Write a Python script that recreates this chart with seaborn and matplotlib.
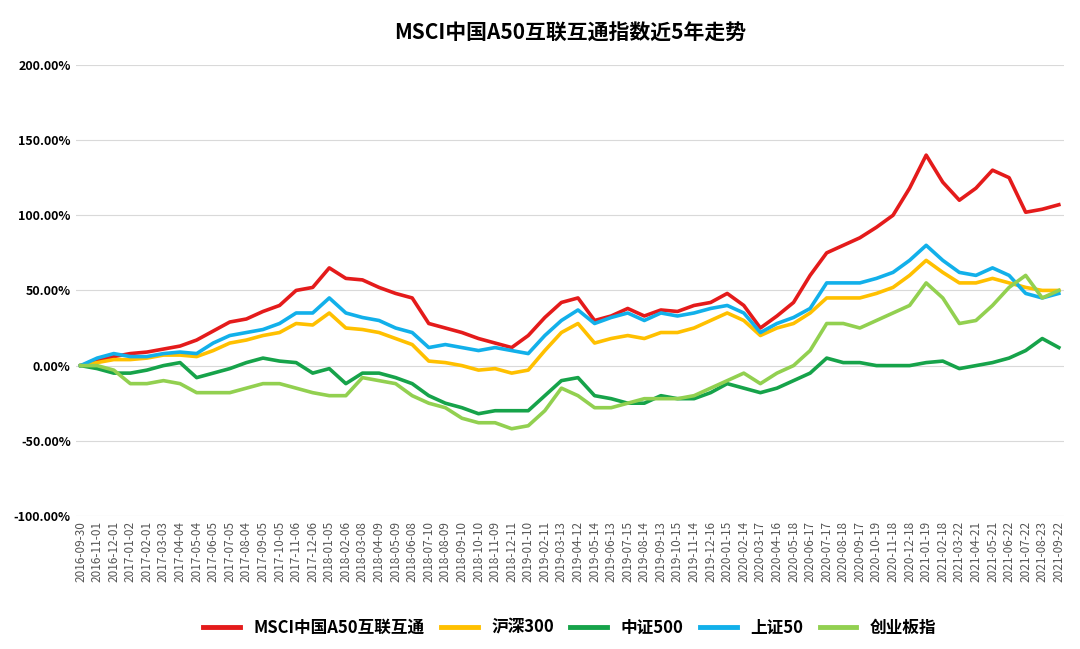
import numpy as np
import pandas as pd
import seaborn as sns
import matplotlib.pyplot as plt
from matplotlib.ticker import FuncFormatter

plt.rcParams['font.family'] = ['Noto Sans CJK SC', 'Noto Sans CJK JP', 'Noto Sans CJK TC',
                               'Noto Sans CJK KR', 'DejaVu Sans']

dates = ['2016-09-30', '2016-11-01', '2016-12-01', '2017-01-02', '2017-02-01', '2017-03-03',
         '2017-04-04', '2017-05-04', '2017-06-05', '2017-07-05', '2017-08-04', '2017-09-05',
         '2017-10-05', '2017-11-06', '2017-12-06', '2018-01-05', '2018-02-06', '2018-03-08',
         '2018-04-09', '2018-05-09', '2018-06-08', '2018-07-10', '2018-08-09', '2018-09-10',
         '2018-10-10', '2018-11-09', '2018-12-11', '2019-01-10', '2019-02-11', '2019-03-13',
         '2019-04-12', '2019-05-14', '2019-06-13', '2019-07-15', '2019-08-14', '2019-09-13',
         '2019-10-15', '2019-11-14', '2019-12-16', '2020-01-15', '2020-02-14', '2020-03-17',
         '2020-04-16', '2020-05-18', '2020-06-17', '2020-07-17', '2020-08-18', '2020-09-17',
         '2020-10-19', '2020-11-18', '2020-12-18', '2021-01-19', '2021-02-18', '2021-03-22',
         '2021-04-21', '2021-05-21', '2021-06-22', '2021-07-22', '2021-08-23', '2021-09-22']

msci = [0, 3, 6, 8, 9, 11, 13, 17, 23, 29, 31, 36, 40, 50, 52, 65, 58, 57, 52, 48,
        45, 28, 25, 22, 18, 15, 12, 20, 32, 42, 45, 30, 33, 38, 33, 37, 36, 40, 42, 48,
        40, 25, 33, 42, 60, 75, 80, 85, 92, 100, 118, 140, 122, 110, 118, 130, 125, 102, 104, 107]
hs300 = [0, 2, 4, 4, 5, 7, 7, 6, 10, 15, 17, 20, 22, 28, 27, 35, 25, 24, 22, 18,
         14, 3, 2, 0, -3, -2, -5, -3, 10, 22, 28, 15, 18, 20, 18, 22, 22, 25, 30, 35,
         30, 20, 25, 28, 35, 45, 45, 45, 48, 52, 60, 70, 62, 55, 55, 58, 55, 52, 50, 50]
zz500 = [0, -2, -5, -5, -3, 0, 2, -8, -5, -2, 2, 5, 3, 2, -5, -2, -12, -5, -5, -8,
         -12, -20, -25, -28, -32, -30, -30, -30, -20, -10, -8, -20, -22, -25, -25, -20, -22, -22, -18, -12,
         -15, -18, -15, -10, -5, 5, 2, 2, 0, 0, 0, 2, 3, -2, 0, 2, 5, 10, 18, 12]
sz50 = [0, 5, 8, 6, 6, 8, 9, 8, 15, 20, 22, 24, 28, 35, 35, 45, 35, 32, 30, 25,
        22, 12, 14, 12, 10, 12, 10, 8, 20, 30, 37, 28, 32, 35, 30, 35, 33, 35, 38, 40,
        35, 22, 28, 32, 38, 55, 55, 55, 58, 62, 70, 80, 70, 62, 60, 65, 60, 48, 45, 48]
cyb = [0, 0, -3, -12, -12, -10, -12, -18, -18, -18, -15, -12, -12, -15, -18, -20, -20, -8, -10, -12,
       -20, -25, -28, -35, -38, -38, -42, -40, -30, -15, -20, -28, -28, -25, -22, -22, -22, -20, -15, -10,
       -5, -12, -5, 0, 10, 28, 28, 25, 30, 35, 40, 55, 45, 28, 30, 40, 52, 60, 45, 50]

names = ['MSCI中国A50互联互通', '沪深300', '中证500', '上证50', '创业板指']
series = [msci, hs300, zz500, sz50, cyb]
colors = ['#e41b1b', '#ffc000', '#16a34a', '#12b0ea', '#92d050']

df = pd.concat([pd.DataFrame({'pos': np.arange(len(dates)), 'val': s, 'name': n})
                for n, s in zip(names, series)])

fig, ax = plt.subplots(figsize=(10.8, 6.49), dpi=100)
fig.subplots_adjust(left=0.07, right=0.985, top=0.9, bottom=0.205)
sns.lineplot(data=df, x='pos', y='val', hue='name', palette=colors, hue_order=names,
             linewidth=2.6, ax=ax)

ax.set_ylim(-100, 200)
ax.set_yticks(np.arange(-100, 201, 50))
ax.yaxis.set_major_formatter(FuncFormatter(lambda v, p: f'{v:.2f}%'))
ax.set_xlim(-0.3, len(dates) - 0.7)
ax.set_xticks(np.arange(len(dates)))
ax.set_xticklabels(dates, rotation=90, fontsize=8.5, color='#555555')
ax.tick_params(axis='y', labelsize=9, length=0)
ax.tick_params(axis='x', length=0)
for t in ax.get_yticklabels():
    t.set_fontweight('bold')
ax.grid(axis='y', color='#d9d9d9', linewidth=0.8)
ax.set_axisbelow(True)
for s in ax.spines.values():
    s.set_visible(False)
ax.set_xlabel('')
ax.set_ylabel('')
ax.set_title('MSCI中国A50互联互通指数近5年走势', fontsize=15, fontweight='bold', pad=18)

leg = ax.legend(loc='upper center', bbox_to_anchor=(0.5, -0.195), ncol=5, frameon=False,
                prop={'weight': 'bold', 'size': 12}, handlelength=2.2, columnspacing=1.0)
for line in leg.get_lines():
    line.set_linewidth(3.5)

fig.savefig('out.png')
